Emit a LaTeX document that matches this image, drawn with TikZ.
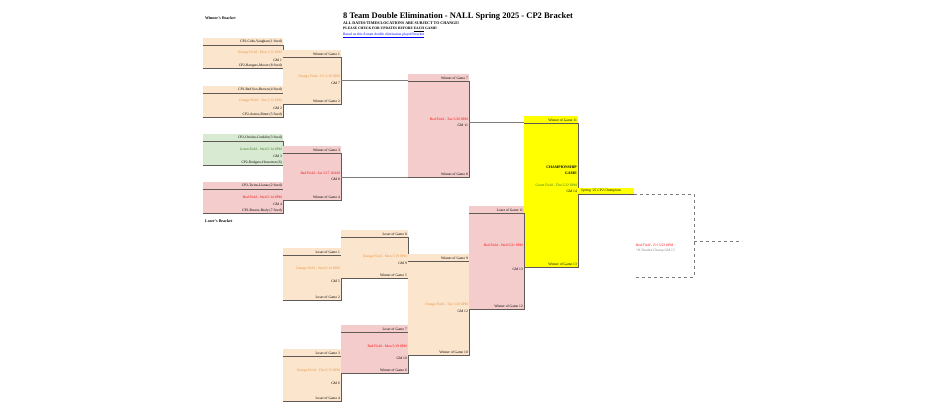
\documentclass[tikz,border=0pt]{standalone}
\usepackage{fontspec}
\setmainfont{Liberation Serif}
\usetikzlibrary{calc,positioning}
\definecolor{orfill}{HTML}{FCE5CD}
\definecolor{ortext}{HTML}{E69138}
\definecolor{rdfill}{HTML}{F4CCCC}
\definecolor{rdtext}{HTML}{FF0000}
\definecolor{grfill}{HTML}{D9EAD3}
\definecolor{grtext}{HTML}{38761D}
\definecolor{yefill}{HTML}{FFFF00}
\definecolor{framec}{HTML}{5F5A55}
\tikzstyle{lbl} = [inner sep=0pt, anchor=east, font=\fontsize{3.6}{4}\selectfont]
\tikzstyle{frame} = [draw=framec, line width=0.8pt]
\tikzstyle{conn} = [draw=framec!80, line width=0.6pt]
% box: name, x1, y1, x2, y2, fill, header, footer
\newcommand\gamebox[8]{%
  \fill[#6] (#2,#3) rectangle (#4,#5);
  \coordinate (#1-nw) at (#2,#3);
  \coordinate (#1-se) at (#4,#5);
  \draw[frame] (#2,#3+7) -- (#4,#3+7) -- (#4,#5) -- (#2,#5);
  \node[lbl] (#1-head) at (#4-1,#3+4) {#7};
  \node[lbl] (#1-foot) at (#4-1,#5-2.5) {#8};
}

\begin{document}
\begin{tikzpicture}[x=1pt,y=-1pt]
\useasboundingbox (0,0) rectangle (942,406);

% titles
\node[inner sep=0pt,anchor=west,font=\fontsize{8.5}{9}\selectfont\bfseries] (title) at (343,16) {8 Team Double Elimination - NALL Spring 2025 - CP2 Bracket};
\node[inner sep=0pt,anchor=west,font=\fontsize{4}{4.5}\selectfont\bfseries] (note1) at (343,23.5) {ALL DATES/TIMES/LOCATIONS ARE SUBJECT TO CHANGE!};
\node[inner sep=0pt,anchor=west,font=\fontsize{3.6}{4}\selectfont\bfseries] (note2) at (343,29.5) {PLEASE CHECK FOR UPDATES BEFORE \underline{EACH} GAME!};
\node[inner sep=0pt,anchor=west,text=blue,font=\fontsize{3.6}{4}\selectfont] (link) at (343,35.5) {\underline{Based on this 8-team double elimination playoff bracket}};
\node[inner sep=0pt,anchor=west,font=\fontsize{4}{4.5}\selectfont\bfseries] (wb) at (205,18) {Winner's Bracket};
\node[inner sep=0pt,anchor=west,font=\fontsize{4}{4.5}\selectfont\bfseries] (lb) at (205,221) {Loser's Bracket};

% winner's bracket
\gamebox{g1}{203}{38}{283}{68}{orfill}{CP2-Cubs-Vaughan (1 Seed)}{CP2-Rangers-Moore (8 Seed)}
\node[lbl,text=ortext] (g1f) at (282,53) {Orange Field - Mon 5/12 6PM};
\node[lbl] (g1n) at (282,60) {GM 1};
\gamebox{g2}{203}{86}{283}{117}{orfill}{CP2-Red Sox-Brown (4 Seed)}{CP2-Astros-Ritter (5 Seed)}
\node[lbl,text=ortext] (g2f) at (282,101) {Orange Field - Tue 5/13 6PM};
\node[lbl] (g2n) at (282,108) {GM 2};
\gamebox{g3}{203}{134}{283}{165}{grfill}{CP2-Orioles-Conklin (3 Seed)}{CP2-Dodgers-Howerton (6)}
\node[lbl,text=grtext] (g3f) at (282,149) {Green Field - Wed 5/14 6PM};
\node[lbl] (g3n) at (282,156) {GM 3};
\gamebox{g4}{203}{182}{283}{213}{rdfill}{CP2-Twins-Llanas (2 Seed)}{CP2-Braves-Braly (7 Seed)}
\node[lbl,text=rdtext] (g4f) at (282,197) {Red Field - Wed 5/14 6PM};
\node[lbl] (g4n) at (282,204) {GM 4};

\gamebox{g7}{283}{50}{341}{104}{orfill}{Winner of Game 1}{Winner of Game 2}
\node[lbl,text=ortext] (g7f) at (340,77) {Orange Field - Fri 5/16 6PM};
\node[lbl] (g7n) at (340,83) {GM 7};
\gamebox{g8}{283}{146}{341}{200}{rdfill}{Winner of Game 3}{Winner of Game 4}
\node[lbl,text=rdtext] (g8f) at (340,173) {Red Field - Sat 5/17 10AM};
\node[lbl] (g8n) at (340,179) {GM 8};

\gamebox{g11}{408}{74}{469}{177}{rdfill}{Winner of Game 7}{Winner of Game 8}
\node[lbl,text=rdtext] (g11f) at (468,119) {Red Field - Tue 5/20 6PM};
\node[lbl] (g11n) at (468,125) {GM 11};

\gamebox{g14}{524}{116}{578}{267}{yefill}{Winner of Game 11}{Winner of Game 13}
\node[lbl,font=\fontsize{3.8}{4}\selectfont\bfseries] (g14a) at (577,167) {CHAMPIONSHIP};
\node[lbl,font=\fontsize{3.8}{4}\selectfont\bfseries] (g14b) at (577,173) {GAME};
\node[lbl,text=grtext] (g14f) at (577,185) {Green Field - Thu 5/22 6PM};
\node[lbl] (g14n) at (577,191) {GM 14};

\fill[yefill] (578,188) rectangle (634,194);
\node[inner sep=0pt,anchor=west,font=\fontsize{3.6}{4}\selectfont\itshape] (champ) at (581,191) {Spring '25 CP2 Champions};
\draw[frame] (578,194) -- (634,194);

% loser's bracket
\gamebox{g5}{283}{248}{341}{300}{orfill}{Loser of Game 1}{Loser of Game 2}
\node[lbl,text=ortext] (g5f) at (340,269) {Orange Field - Wed 5/14 6PM};
\node[lbl] (g5n) at (340,281) {GM 5};
\gamebox{g6}{283}{349}{341}{401}{orfill}{Loser of Game 3}{Loser of Game 4}
\node[lbl,text=ortext] (g6f) at (340,371) {Orange Field - Thu 5/15 6PM};
\node[lbl] (g6n) at (340,383) {GM 6};
\gamebox{g9}{341}{230}{408}{278}{orfill}{Loser of Game 8}{Winner of Game 5}
\node[lbl,text=ortext] (g9f) at (407,257) {Orange Field - Mon 5/19 6PM};
\node[lbl] (g9n) at (407,263) {GM 9};
\gamebox{g10}{341}{325}{408}{373}{rdfill}{Loser of Game 7}{Winner of Game 6}
\node[lbl,text=rdtext] (g10f) at (407,346) {Red Field - Mon 5/19 6PM};
\node[lbl] (g10n) at (407,358) {GM 10};
\gamebox{g12}{408}{254}{469}{355}{orfill}{Winner of Game 9}{Winner of Game 10}
\node[lbl,text=ortext] (g12f) at (468,305) {Orange Field - Tue 5/20 6PM};
\node[lbl] (g12n) at (468,311) {GM 12};
\gamebox{g13}{469}{206}{524}{309}{rdfill}{Loser of Game 11}{Winner of Game 12}
\node[lbl,text=rdtext] (g13f) at (523,245) {Red Field - Wed 5/21 6PM};
\node[lbl] (g13n) at (523,269) {GM 13};

% connectors
\coordinate (w7) at (341,80);
\coordinate (w8) at (341,177);
\coordinate (w11) at (469,122);
\draw[conn] (w7) -- (w7 -| g11-nw);
\draw[conn] (w8) -- (w8 -| g11-nw);
\draw[conn] (w11) -- (w11 -| g14-nw);

% if needed game
\coordinate (ifa) at (634,194);
\coordinate (ifb) at (694,277);
\coordinate (ifc) at (694,241);
\coordinate (ifd) at (742,241);
\draw[conn,dashed] (ifa) -- (ifa -| ifb) -- (ifb) -- (ifb -| ifa);
\draw[conn,dashed] (ifc) -- (ifd);
\node[inner sep=0pt,anchor=west,text=rdtext,font=\fontsize{3.6}{4}\selectfont\itshape] (g15f) at (636,245) {Red Field - Fri 5/23 6PM};
\node[inner sep=0pt,anchor=west,text=gray,font=\fontsize{3.6}{4}\selectfont] (g15n) at (636,251) {*If Needed Champ GM 15};
\end{tikzpicture}
\end{document}
